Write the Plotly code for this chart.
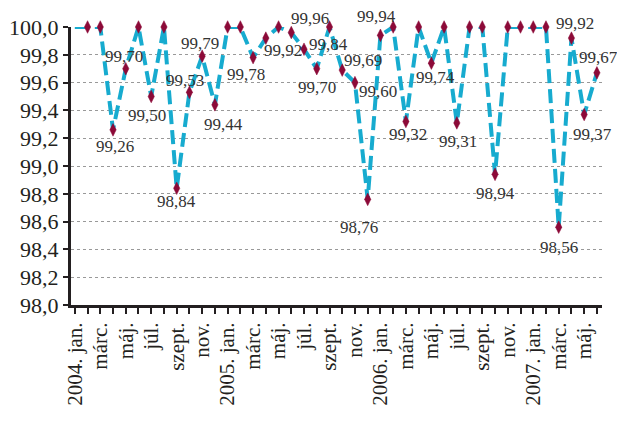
import plotly.graph_objects as go

months = ["jan.", "febr.", "márc.", "ápr.", "máj.", "jún.", "júl.", "aug.", "szept.", "okt.", "nov.", "dec."]
years = [2004, 2005, 2006, 2007]

values = [100.00, 100.00, 100.00, 99.26, 99.70, 100.00, 99.50, 100.00, 98.84, 99.53, 99.79, 99.44,
          100.00, 100.00, 99.78, 99.92, 100.00, 99.96, 99.84, 99.70, 100.00, 99.69, 99.60, 98.76,
          99.94, 100.00, 99.32, 100.00, 99.74, 100.00, 99.31, 100.00, 100.00, 98.94, 100.00, 100.00,
          100.00, 100.00, 98.56, 99.92, 99.37, 99.67]

# build month labels
cats = []
for y in years:
    for m in months:
        cats.append((y, m))
cats = cats[:len(values)]
x = list(range(len(values)))

tickvals = x[::2]
ticktext = []
for i in tickvals:
    y, m = cats[i]
    ticktext.append(f"{y}. {m}" if m == "jan." else m)

# label offsets (pixels) for non-100 points: index -> (xshift, yshift)
label_offsets = {
    3: (2, -17), 4: (-2, 12), 6: (-4, -19), 8: (0, -13), 9: (-4, 12), 10: (-2, 13),
    11: (9, -20), 14: (-7, -17), 15: (17, -12), 17: (19, 14), 18: (24, 5), 19: (0, -19),
    21: (21, 10), 22: (23, -9), 23: (-9, -28), 24: (-4, 19), 26: (2, -13), 28: (4, -14),
    30: (1, -19), 33: (0, -19), 38: (0, -20), 39: (4, 15), 40: (8, -20), 41: (2, 15),
}

marker_sizes = [0] + [9] * (len(values) - 1)

fig = go.Figure()
fig.add_trace(go.Scatter(
    x=x, y=values, mode="lines+markers",
    line=dict(color="#17abcf", width=4, dash="14px,6px"),
    marker=dict(symbol="diamond-tall", size=marker_sizes, color="#8c0a38",
                opacity=1, line=dict(width=0.5, color="#8c0a38")),
    cliponaxis=False, showlegend=False,
))

for i, (dx, dy) in label_offsets.items():
    fig.add_annotation(
        x=x[i], y=values[i], text=f"{values[i]:.2f}".replace(".", ","),
        showarrow=False, xshift=dx, yshift=dy,
        font=dict(family="Liberation Serif", size=17, color="#333333"),
        xanchor="center", yanchor="middle",
    )

# page body adds an 8px offset; size the figure to compensate
fig.update_layout(
    width=617, height=415,
    margin=dict(l=63, r=23, t=19, b=118, autoexpand=False),
    plot_bgcolor="white", paper_bgcolor="white",
    separators=", ",
    font=dict(family="Liberation Serif", color="#231f20"),
)
fig.update_xaxes(
    automargin=False,
    range=[-0.3, 41.4],
    tickmode="array", tickvals=tickvals, ticktext=ticktext,
    tickangle=-90, tickfont=dict(size=21, family="Liberation Serif", color="#231f20"),
    showgrid=False, zeroline=False,
    showline=True, linecolor="#231f20", linewidth=3,
    ticks="outside", ticklen=6, tickwidth=2, tickcolor="#231f20",
    minor=dict(dtick=1, tick0=0, ticks="outside", ticklen=6, tickwidth=2, tickcolor="#231f20", showgrid=False),
)
fig.update_yaxes(
    automargin=False,
    range=[98.0, 100.0], dtick=0.2, tickformat=".1f",
    tickfont=dict(size=22, family="Liberation Serif", color="#231f20"),
    showgrid=True, gridcolor="#999999", gridwidth=1, griddash="dot",
    zeroline=False,
    showline=True, linecolor="#231f20", linewidth=3,
    ticks="outside", ticklen=5, tickwidth=2, tickcolor="#231f20",
)

fig.write_html("out.html")
